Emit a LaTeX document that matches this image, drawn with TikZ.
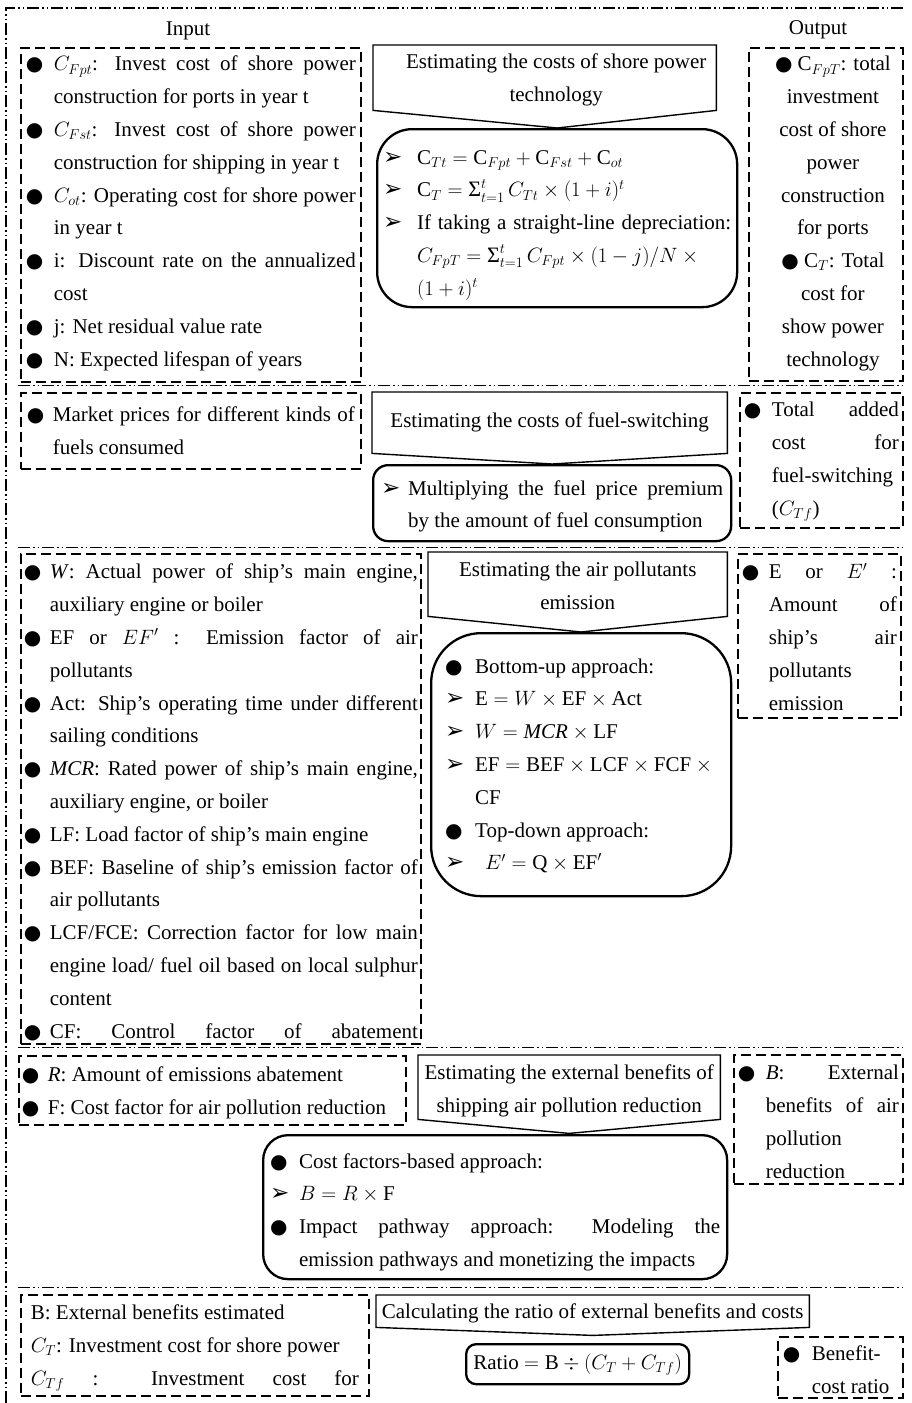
\documentclass[tikz,border=0pt]{standalone}
\usepackage{fontspec}
\setmainfont{Liberation Serif}
\newfontfamily\symfont{DejaVu Sans}
\usetikzlibrary{calc}

% Bullet marks used in the lists
\newcommand{\bul}{{\symfont\fontsize{20}{20}\selectfont ●}}
\newcommand{\arr}{{\symfont\fontsize{23}{23}\selectfont ➢}}
% One list entry: hanging indent, mark in front
\newcommand{\itm}[2]{\noindent\hangindent=#1\hangafter=1\makebox[#1][l]{#2}}
% Centred lines, optionally pushed to the right
\newcommand{\ctr}[1][0pt]{\leftskip=#1 plus 1fill\rightskip=0pt plus 1fill\parfillskip=0pt\relax}
% Summation sign as printed in the formulas
\newcommand{\sm}{\mathop{\mbox{\fontsize{22}{22}\selectfont Σ}}\nolimits}

\begin{document}
\hyphenpenalty=10000
\begin{tikzpicture}[x=1pt, y=-1pt,
    every node/.style={font=\fontsize{21}{32.8}\selectfont, inner ysep=0pt},
    in_box/.style={draw, line width=1.8pt, dash pattern=on 10pt off 5pt, anchor=north west, align=justify}, % dashed input/output boxes
    arrow_box/.style={anchor=north west, align=justify}, % text of the down arrows
    arrow_line/.style={line width=1.4pt, line join=miter},
    calc_box/.style={draw, line width=2.3pt, anchor=north west, align=justify}, % rounded formula boxes
    frame_line/.style={line width=1.2pt, dash pattern=on 12pt off 3pt on 1.5pt off 3pt on 1.5pt off 3pt},
    sep_line/.style={line width=0.9pt, dash pattern=on 12pt off 3pt on 1.5pt off 3pt on 1.5pt off 3pt}
]
\useasboundingbox (0,0) rectangle (911,1403);

% Outer frame and the lines between the steps
\draw[frame_line] (6,1403) -- (6,8) -- (905,8);
\foreach \y in {385,547,1047,1287}
    \draw[sep_line] (18,\y) -- (905,\y);

\node (lbl_in) at (188,31) {Input};
\node (lbl_out) at (818,30) {Output};

% Step 1: shore power costs
\node[in_box, inner xsep=5pt, text width=330pt, text height=23pt, text depth=311pt] (in_shore) at (20,47) {%
\itm{28pt}{\bul}$C_{Fpt}$: Invest cost of shore power\linebreak construction for ports in year t\par
\itm{28pt}{\bul}$C_{Fst}$: Invest cost of shore power\linebreak construction for shipping in year t\par
\itm{28pt}{\bul}$C_{ot}$: Operating cost for shore power\linebreak in year t\par
\itm{28pt}{\bul}i: Discount rate on the annualized\linebreak cost\par
\itm{28pt}{\bul}j: Net residual value rate\par
\itm{28pt}{\bul}N: Expected lifespan of years\par};

\node[arrow_box, inner xsep=4pt, text width=335pt, text height=23pt, text depth=42pt] (est_shore) at (373,45)
    {\ctr[23pt]Estimating the costs of shore power\par technology\par};

\node[calc_box, rounded corners=35pt, inner xsep=6pt, text width=348pt, text height=35pt, text depth=143pt] (calc_shore) at (376,128) {%
\itm{34pt}{\arr}$\mathrm{C}_{Tt}=\mathrm{C}_{Fpt}+\mathrm{C}_{Fst}+\mathrm{C}_{ot}$\par
\itm{34pt}{\arr}$\mathrm{C}_{T}=\sm_{t=1}^{t}C_{Tt}\times(1+i)^{t}$\par
\itm{34pt}{\arr}If taking a straight-line depreciation:\linebreak
$C_{FpT}=\sm_{t=1}^{t}C_{Fpt}\times(1-j)/N\times{}$\newline $(1+i)^{t}$\par};

\node[in_box, inner xsep=5pt, text width=144pt, text height=23pt, text depth=310pt] (out_shore) at (748,47)
    {\ctr[14pt]\bul\ $\mathrm{C}_{FpT}$: total\par investment\par cost of shore\par power\par construction\par for ports\par
     \bul\ $\mathrm{C}_{T}$: Total\par cost for\par show power\par technology\par};

% Step 2: fuel-switching costs
\node[in_box, inner xsep=6pt, text width=328pt, text height=29pt, text depth=47pt] (in_fuel) at (20,392)
    {\itm{26pt}{\bul}Market prices for different kinds of\linebreak fuels consumed\par};

\node[arrow_box, inner xsep=4pt, text width=347pt, text height=35pt, text depth=26pt] (est_fuel) at (372,392)
    {\ctr Estimating the costs of fuel-switching\par};

\node[calc_box, rounded corners=15pt, inner xsep=8pt, text width=342pt, text height=30pt, text depth=46pt] (calc_fuel) at (372,464)
    {\itm{27pt}{\arr}Multiplying the fuel price premium\linebreak by the amount of fuel consumption\par};

\node[in_box, inner xsep=4pt, text width=155pt, text height=24pt, text depth=111pt] (out_fuel) at (739,392)
    {\itm{28pt}{\bul}Total added\linebreak cost for\linebreak fuel-switching\linebreak ($C_{Tf}$)\par};

% Step 3: air pollutants emission
\node[in_box, inner xsep=3pt, text width=394pt, text height=25pt, text depth=465pt] (in_air) at (20,553) {%
\itm{26pt}{\bul}\textit{W}: Actual power of ship’s main engine,\linebreak auxiliary engine or boiler\par
\itm{26pt}{\bul}EF or $EF'$ : Emission factor of air\linebreak pollutants\par
\itm{26pt}{\bul}Act: Ship’s operating time under different\linebreak sailing conditions\par
\itm{26pt}{\bul}\textit{MCR}: Rated power of ship’s main engine,\linebreak auxiliary engine, or boiler\par
\itm{26pt}{\bul}LF: Load factor of ship’s main engine\par
\itm{26pt}{\bul}BEF: Baseline of ship’s emission factor of\linebreak air pollutants\par
\itm{26pt}{\bul}LCF/FCE: Correction factor for low main\linebreak engine load/ fuel oil based on local sulphur\linebreak content\par
\itm{26pt}{\bul}CF: Control factor of abatement\parfillskip=0pt\par};

\node[arrow_box, inner xsep=4pt, text width=291pt, text height=24pt, text depth=40pt] (est_air) at (428,552)
    {\ctr Estimating the air pollutants\par emission\par};

\node[calc_box, rounded corners=50pt, inner xsep=14pt, text width=272pt, text height=40pt, text depth=223pt] (calc_air) at (430,632) {%
\itm{30pt}{\bul}Bottom-up approach:\par
\itm{30pt}{\arr}$\mathrm{E}=W\times\mathrm{EF}\times\mathrm{Act}$\par
\itm{30pt}{\arr}$W=\mathit{MCR}\times\mathrm{LF}$\par
\itm{30pt}{\arr}$\mathrm{EF}=\mathrm{BEF}\times\mathrm{LCF}\times\mathrm{FCF}\times{}$\newline $\mathrm{CF}$\par
\itm{30pt}{\bul}Top-down approach:\par
\itm{30pt}{\arr}\hspace*{10pt}$E'=\mathrm{Q}\times\mathrm{EF}'$\par};

\node[in_box, inner xsep=4pt, text width=155pt, text height=25pt, text depth=139pt] (out_air) at (737,553)
    {\itm{27pt}{\bul}E or $E'$ :\linebreak Amount of\linebreak ship’s air\linebreak pollutants\linebreak emission\par};

% Step 4: external benefits
\node[in_box, inner xsep=3pt, text width=381pt, text height=26pt, text depth=43pt] (in_benefit) at (18,1055) {%
\itm{26pt}{\bul}\textit{R}: Amount of emissions abatement\par
\itm{26pt}{\bul}F: Cost factor for air pollution reduction\par};

\node[arrow_box, inner xsep=2pt, text width=298pt, text height=24pt, text depth=40pt] (est_benefit) at (418,1055)
    {\ctr Estimating the external benefits of\par shipping air pollution reduction\par};

\node[calc_box, rounded corners=25pt, inner xsep=7pt, text width=450pt, text height=33pt, text depth=111pt] (calc_benefit) at (262,1134) {%
\itm{29pt}{\bul}Cost factors-based approach:\par
\itm{29pt}{\arr}$B=R\times\mathrm{F}$\par
\itm{29pt}{\bul}Impact pathway approach: Modeling the\linebreak emission pathways and monetizing the impacts\par};

\node[in_box, inner xsep=4pt, text width=161pt, text height=25pt, text depth=104pt] (out_benefit) at (733,1054)
    {\itm{28pt}{\bul}\textit{B}: External\linebreak benefits of air\linebreak pollution\linebreak reduction\par};

% Step 5: benefit-cost ratio
\node[in_box, inner xsep=10pt, text width=328pt, text height=25pt, text depth=76pt] (in_ratio) at (20,1294) {%
B: External benefits estimated\par
$C_{T}$: Investment cost for shore power\par
$C_{Tf}$ : Investment cost for\parfillskip=0pt\par};

\node[arrow_box, inner xsep=0pt, text width=433pt, text height=23pt, text depth=9pt] (est_ratio) at (376,1295)
    {\ctr Calculating the ratio of external benefits and costs\par};

\node[calc_box, rounded corners=10pt, inner xsep=5pt, text width=213pt, text height=25pt, text depth=15pt] (calc_ratio) at (465,1343)
    {\ctr Ratio $=\mathrm{B}\div(C_{T}+C_{Tf})$\par};

\node[in_box, inner xsep=5pt, text width=115pt, text height=24pt, text depth=37pt] (out_ratio) at (777,1336)
    {\itm{29pt}{\bul}Benefit-\linebreak cost ratio\par};

% Tips of the down arrows
\coordinate (tip_shore) at (calc_shore.north);
\coordinate (tip_fuel) at (calc_fuel.north);
\coordinate (tip_air) at (calc_air.north);
\coordinate (tip_benefit) at ($(est_benefit.south)+(0,14)$);
\coordinate (tip_ratio) at ($(est_ratio.south)+(0,8)$);

% Draw the down arrow outlines
\foreach \s in {shore,fuel,air,benefit,ratio}
    \draw[arrow_line] (est_\s.north west) -- (est_\s.north east) -- (est_\s.south east)
        -- (tip_\s) -- (est_\s.south west) -- cycle;

\end{tikzpicture}
\end{document}
